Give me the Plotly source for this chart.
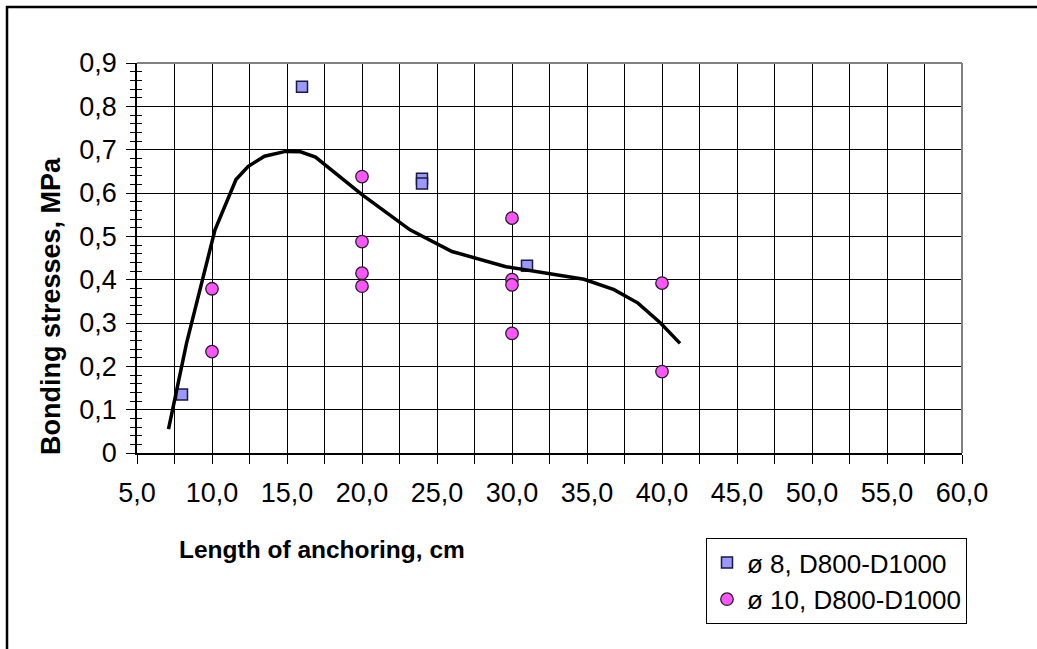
import plotly.graph_objects as go

# Anchoring length (cm) and bonding stress (MPa), bars ø 8
d8_length = [8, 16, 24, 24, 31]
d8_stress = [0.135, 0.845, 0.633, 0.622, 0.432]

# Anchoring length (cm) and bonding stress (MPa), bars ø 10
d10_length = [10, 10, 20, 20, 20, 20, 30, 30, 30, 30, 40, 40]
d10_stress = [0.379, 0.234, 0.638, 0.488, 0.415, 0.385, 0.542, 0.400, 0.388, 0.276, 0.392, 0.188]

# Trend curve through the test results
trend_length = [7.1, 8.3, 10.2, 11.6, 12.4, 13.5, 14.9, 15.9, 16.9, 20.0, 23.2, 26.0,
                29.6, 34.8, 36.8, 38.4, 39.9, 41.2]
trend_stress = [0.055, 0.253, 0.515, 0.631, 0.661, 0.685, 0.696, 0.695, 0.683, 0.596, 0.515, 0.465,
                0.430, 0.401, 0.377, 0.346, 0.300, 0.253]

# Axis ticks
x_tickvals = [5, 10, 15, 20, 25, 30, 35, 40, 45, 50, 55, 60]
x_ticktext = ["5,0", "10,0", "15,0", "20,0", "25,0", "30,0", "35,0", "40,0", "45,0", "50,0", "55,0", "60,0"]
y_tickvals = [0, 0.1, 0.2, 0.3, 0.4, 0.5, 0.6, 0.7, 0.8, 0.9]
y_ticktext = ["0", "0,1", "0,2", "0,3", "0,4", "0,5", "0,6", "0,7", "0,8", "0,9"]

FONT = "Liberation Sans, Arial, sans-serif"
W, H = 1037, 649
L, R, T, B = 137, 75, 63, 196
PW, PH = W - L - R, H - T - B


def px_x(p):
    return (p - L) / PW


def px_y(p):
    return (H - B - p) / PH


fig = go.Figure()

fig.add_trace(go.Scatter(
    x=trend_length, y=trend_stress, mode="lines",
    line=dict(color="black", width=3.5),
    showlegend=False, hoverinfo="skip", yaxis="y2",
))
fig.add_trace(go.Scatter(
    x=d8_length, y=d8_stress, mode="markers", name="ø 8, D800-D1000",
    marker=dict(symbol="square", size=11, color="#9999FF",
                line=dict(color="#1a1a40", width=1.5)),
))
fig.add_trace(go.Scatter(
    x=d10_length, y=d10_stress, mode="markers", name="ø 10, D800-D1000",
    marker=dict(symbol="circle", size=12.5, color="#FF55FF",
                line=dict(color="#222222", width=1.3)),
))

fig.update_layout(
    width=W, height=H,
    margin=dict(l=L, r=R, t=T, b=B, pad=0),
    paper_bgcolor="white", plot_bgcolor="white",
    font=dict(family=FONT, color="black", size=24),
    xaxis=dict(
        range=[5, 60], tickmode="array", tickvals=x_tickvals, ticktext=x_ticktext,
        ticks="outside", ticklen=9, tickwidth=1.2, tickcolor="black",
        showgrid=True, gridcolor="black", gridwidth=1.2,
        showline=True, linecolor="black", linewidth=1.5,
        zeroline=False, ticklabelstandoff=6,
        tickfont=dict(size=27),
        minor=dict(tickmode="linear", tick0=5, dtick=2.5, ticks="outside", ticklen=9,
                   tickwidth=1.2, tickcolor="black", showgrid=True,
                   gridcolor="black", gridwidth=1.2),
    ),
    yaxis=dict(
        range=[0, 0.9], tickmode="array", tickvals=y_tickvals, ticktext=y_ticktext,
        ticks="outside", ticklen=9, tickwidth=1.2, tickcolor="black",
        showgrid=True, gridcolor="black", gridwidth=1.2,
        showline=True, linecolor="black", linewidth=1.5,
        zeroline=False, ticklabelstandoff=4,
        tickfont=dict(size=27),
        minor=dict(tickmode="linear", tick0=0, dtick=0.02, ticks="outside", ticklen=5,
                   tickwidth=1.2, tickcolor="black", showgrid=False),
    ),
    yaxis2=dict(
        range=[0, 0.9], overlaying="y", side="left", anchor="x",
        tickmode="array", tickvals=y_tickvals, showticklabels=False,
        ticks="inside", ticklen=6, tickwidth=1.2, tickcolor="black",
        showgrid=False, showline=False, zeroline=False,
        minor=dict(tickmode="linear", tick0=0, dtick=0.02, ticks="inside", ticklen=5,
                   tickwidth=1.2, tickcolor="black", showgrid=False),
    ),
    legend=dict(
        x=px_x(706), y=px_y(538), xanchor="left", yanchor="top",
        bgcolor="white", bordercolor="black", borderwidth=1,
        font=dict(family=FONT, size=26, color="black"),
        itemsizing="trace", tracegroupgap=0,
    ),
    showlegend=True,
)

# Axis titles
fig.add_annotation(
    text="<b>Length of anchoring, cm</b>", xref="paper", yref="paper",
    x=px_x(322), y=px_y(549), xanchor="center", yanchor="middle",
    showarrow=False, font=dict(family=FONT, size=24.5, color="black"),
)
fig.add_annotation(
    text="<b>Bonding stresses, MPa</b>", xref="paper", yref="paper",
    x=px_x(51), y=px_y(306), xanchor="center", yanchor="middle", textangle=-90,
    showarrow=False, font=dict(family=FONT, size=27, color="black"),
)

# Grey edges of the plot area and the outer frame of the chart
fig.add_shape(type="line", xref="paper", yref="paper", x0=0, x1=1, y0=1, y1=1,
              line=dict(color="#808080", width=2))
fig.add_shape(type="line", xref="paper", yref="paper", x0=1, x1=1, y0=0, y1=1,
              line=dict(color="#808080", width=2))
fig.add_shape(type="rect", xref="paper", yref="paper",
              x0=px_x(7), x1=px_x(W + 20), y0=px_y(H + 20), y1=px_y(7),
              line=dict(color="black", width=2.5), fillcolor="rgba(0,0,0,0)")

fig.write_html("out.html")
